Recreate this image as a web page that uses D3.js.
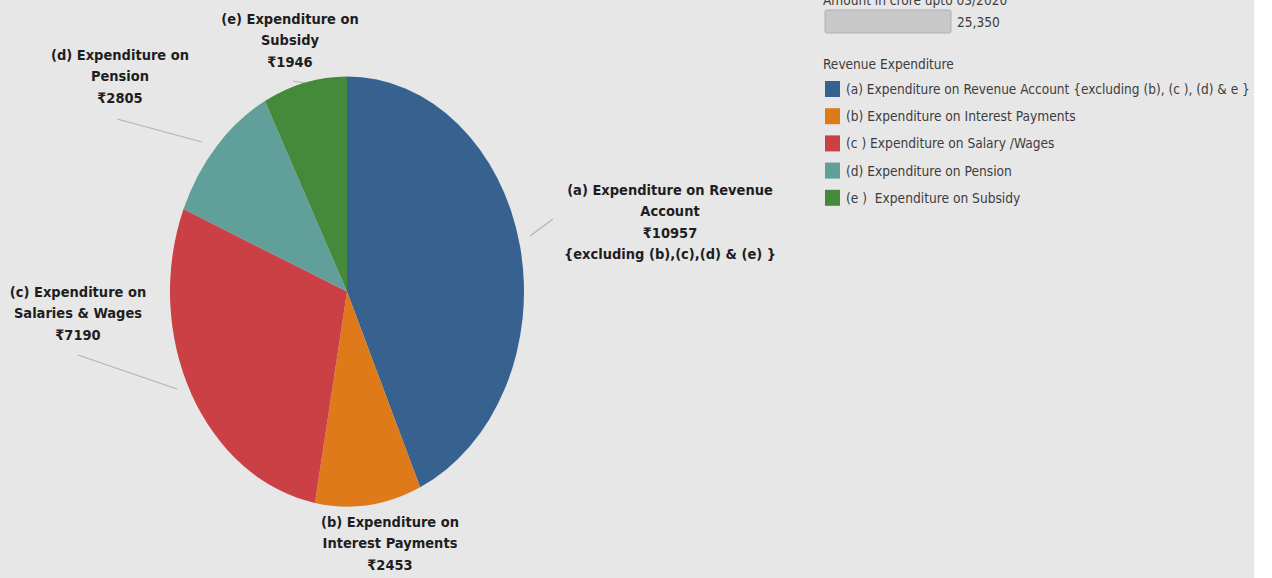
<!DOCTYPE html>
<html>
<head>
<meta charset="utf-8">
<script src="https://cdn.jsdelivr.net/npm/d3@7"></script>
<style>
  body { margin: 0; background: #fff; }
  svg { display: block; }
  .item text { white-space: pre; }
</style>
</head>
<body>
<div id="chart"></div>
<script>
var width = 1272, height = 578;

// data
var categories = ["a", "b", "c", "d", "e"];
var amounts = [10957, 2453, 7190, 2805, 1946];
var colors = ["#37628f", "#df7a1a", "#ca4044", "#61a09a", "#448a3a"];
var sliceLabels = [
  ["(a) Expenditure on Revenue", "Account", "\u20B910957", "{excluding (b),(c),(d) & (e) }"],
  ["(b) Expenditure on", "Interest Payments", "\u20B92453"],
  ["(c) Expenditure on", "Salaries & Wages", "\u20B97190"],
  ["(d) Expenditure on", "Pension", "\u20B92805"],
  ["(e) Expenditure on", "Subsidy", "\u20B91946"]
];
var legendNames = [
  "(a) Expenditure on Revenue Account {excluding (b), (c ), (d) & e }",
  "(b) Expenditure on Interest Payments",
  "(c ) Expenditure on Salary /Wages",
  "(d) Expenditure on Pension",
  "(e )  Expenditure on Subsidy"
];
var totalLabel = "25,350";

var cx = 347, cy = 291.5, rx = 177, ry = 215;

var svg = d3.select("#chart").append("svg")
  .attr("width", width).attr("height", height);

svg.append("rect").attr("width", 1254).attr("height", height).attr("fill", "#e7e7e7");

var pie = d3.pie().sort(null).value(function(d) { return d; });
var arcs = pie(amounts);
var arc = d3.arc().innerRadius(0).outerRadius(ry);

// label placement (centre x, first line y) and leader lines
var labelPos = [[670, 195], [390, 527], [78, 297], [120, 60], [290, 24]];
var leaders = [[[530, 236], [553, 219]], [[372, 504], [392, 498]], [[78, 355], [177, 389]],
               [[117, 119], [202, 142]], [[293, 81], [310, 84]]];

var lineG = svg.append("g");
leaders.forEach(function(l) {
  lineG.append("line")
    .attr("x1", l[0][0]).attr("y1", l[0][1])
    .attr("x2", l[1][0]).attr("y2", l[1][1])
    .attr("stroke", "#b3b3b3").attr("stroke-width", 1.2);
});

var pieG = svg.append("g")
  .attr("transform", "translate(" + cx + "," + cy + ") scale(" + (rx / ry) + ",1)");

pieG.selectAll("path")
  .data(arcs)
  .enter()
  .append("path")
  .attr("d", arc)
  .attr("fill", function(d, i) { return colors[i]; });

var labG = svg.append("g")
  .attr("font-family", "'DejaVu Sans Condensed', 'DejaVu Sans', sans-serif")
  .attr("font-weight", "bold")
  .attr("font-size", 14.5)
  .attr("fill", "#1e1e1e")
  .attr("text-anchor", "middle");

sliceLabels.forEach(function(lines, i) {
  var t = labG.append("text")
    .attr("x", labelPos[i][0]).attr("y", labelPos[i][1]);
  lines.forEach(function(s, j) {
    t.append("tspan").attr("x", labelPos[i][0]).attr("dy", j === 0 ? 0 : 21.3).text(s);
  });
});

// legend
var leg = svg.append("g")
  .attr("font-family", "'DejaVu Sans Condensed', sans-serif")
  .attr("font-size", 14)
  .attr("fill", "#3c3c3c");

// narrow the condensed font a bit, like the original legend face
function squeeze(sel, x, k) {
  sel.attr("transform", "translate(" + x + ",0) scale(" + k + ",1)").attr("x", 0);
}

// title sits half off the top edge, as in the original
squeeze(leg.append("text").attr("y", 5).text("Amount in crore upto 03/2020"), 823, 0.97);
leg.append("rect")
  .attr("x", 825).attr("y", 10).attr("width", 126).attr("height", 23)
  .attr("rx", 2).attr("fill", "#c8c8c8").attr("stroke", "#b0b0b0");
squeeze(leg.append("text").attr("y", 27).text(totalLabel), 957, 0.97);

squeeze(leg.append("text").attr("y", 69).text("Revenue Expenditure"), 823, 0.97);

var items = leg.selectAll("g.item")
  .data(categories)
  .enter()
  .append("g")
  .attr("class", "item")
  .attr("transform", function(d, i) { return "translate(825," + (81 + i * 27.2) + ")"; });

items.append("rect")
  .attr("width", 15).attr("height", 16)
  .attr("fill", function(d, i) { return colors[i]; });
items.append("text")
  .attr("y", 13)
  .text(function(d, i) { return legendNames[i]; })
  .each(function() {
    var k = Math.min(0.975, 404 / this.getComputedTextLength());
    d3.select(this).attr("transform", "translate(21,0) scale(" + k + ",1)");
  });
</script>
</body>
</html>
